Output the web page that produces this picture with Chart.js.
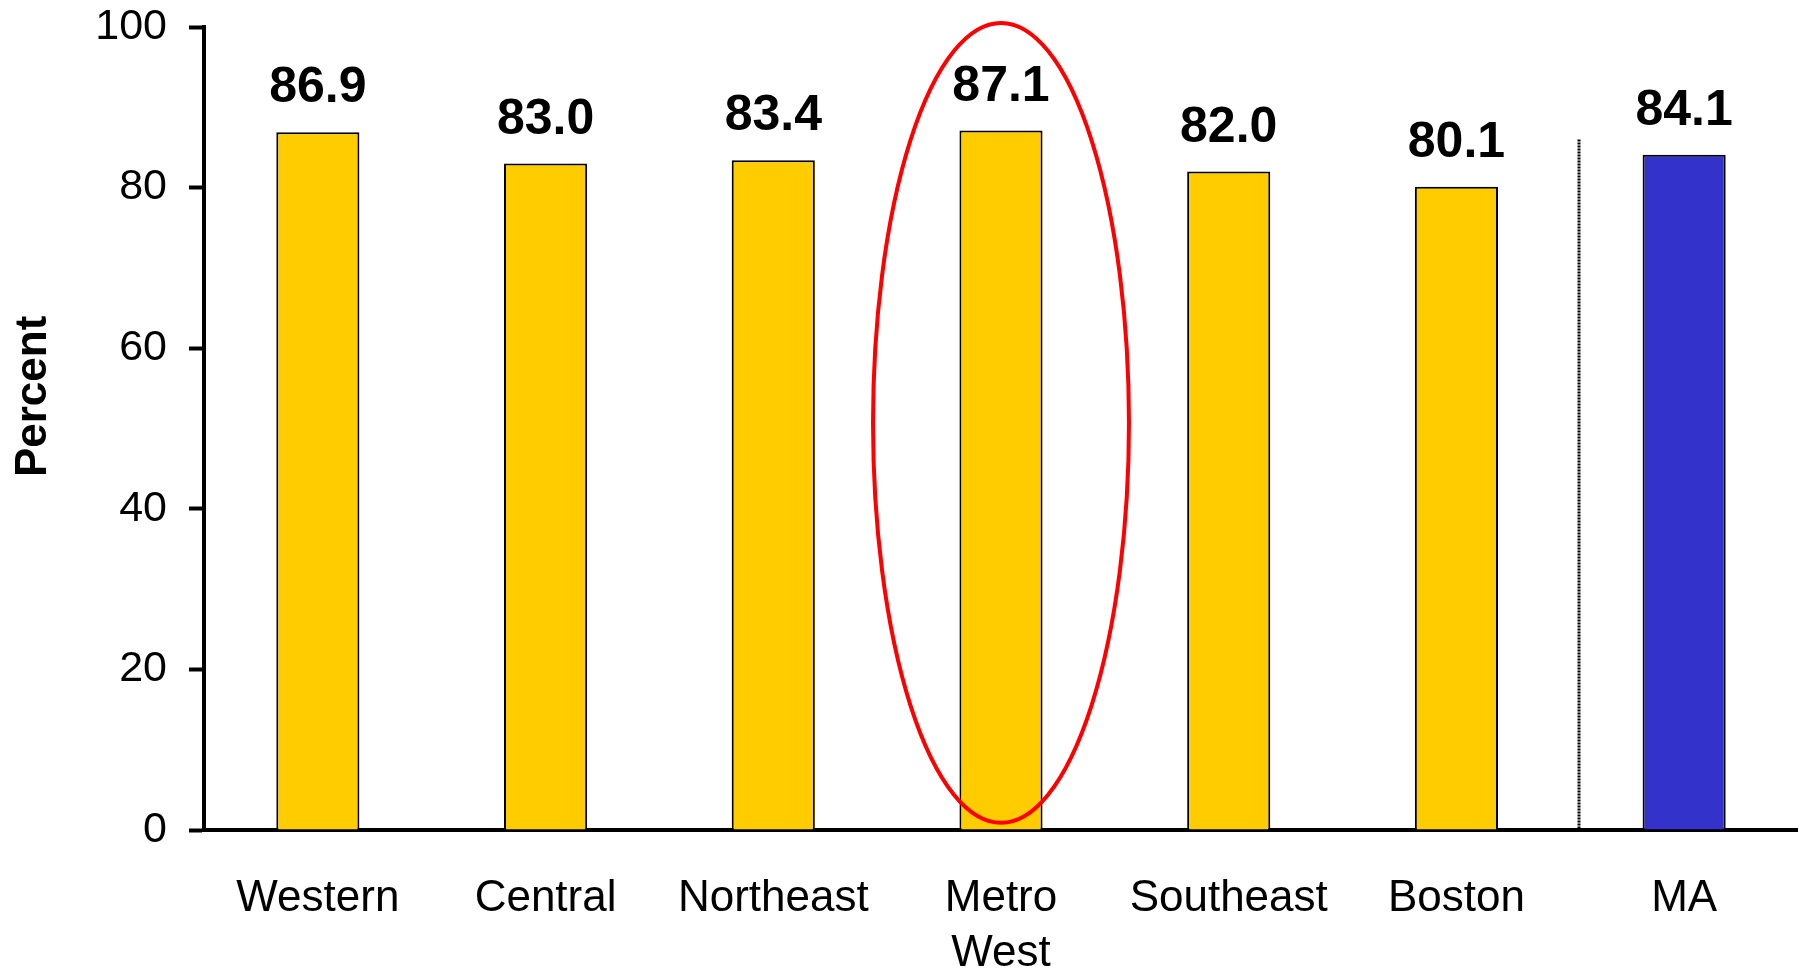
<!DOCTYPE html>
<html>
<head>
<meta charset="utf-8">
<script src="https://cdn.jsdelivr.net/npm/chart.js@4.4.1/dist/chart.umd.min.js"></script>
<style>
  html, body { margin: 0; padding: 0; background: #fff; }
  #wrap { width: 1798px; height: 970px; }
</style>
</head>
<body>
<div id="wrap"><canvas id="chart"></canvas></div>
<script>
// --- data ---
const regions = [["Western"], ["Central"], ["Northeast"], ["Metro", "West"], ["Southeast"], ["Boston"], ["MA"]];
const percents = [86.9, 83.0, 83.4, 87.1, 82.0, 80.1, 84.1];
const yTicks = [0, 20, 40, 60, 80, 100];
const yTitle = "Percent";
const highlightRegion = "Metro West";
const stateName = "MA";

const FONT = "'Liberation Sans', Arial, Helvetica, sans-serif";
const YELLOW = "#FFCC00";
const BLUE = "#3333CC";

const barColors = regions.map(r => r.join(" ") === stateName ? BLUE : YELLOW);

// value labels, dotted separator before MA, red ellipse round the highlighted bar, axis title
const extras = {
  id: "extras",
  afterDatasetsDraw(chart) {
    const ctx = chart.ctx;
    const x = chart.scales.x;
    const y = chart.scales.y;
    const meta = chart.getDatasetMeta(0);

    // labels above the bars
    ctx.save();
    ctx.font = "bold 50px " + FONT;
    ctx.fillStyle = "#000";
    ctx.textAlign = "center";
    ctx.textBaseline = "alphabetic";
    meta.data.forEach((bar, i) => {
      ctx.fillText(percents[i].toFixed(1), bar.x, bar.y - 30);
    });
    ctx.restore();

    // dotted separator
    const stateIdx = regions.findIndex(r => r.join(" ") === stateName);
    const sx = Math.round(x.getPixelForValue(stateIdx - 0.46));
    ctx.save();
    ctx.strokeStyle = "#000";
    ctx.lineWidth = 3;
    ctx.setLineDash([2, 1]);
    ctx.beginPath();
    ctx.moveTo(sx, y.getPixelForValue(86));
    ctx.lineTo(sx, y.getPixelForValue(0));
    ctx.stroke();
    ctx.restore();

    // ellipse
    const hi = regions.findIndex(r => r.join(" ") === highlightRegion);
    const cx = x.getPixelForValue(hi);
    const catW = x.getPixelForValue(1) - x.getPixelForValue(0);
    const top = y.getPixelForValue(100.5);
    const bottom = y.getPixelForValue(0.9);
    ctx.save();
    ctx.strokeStyle = "#FF0000";
    ctx.lineWidth = 4;
    ctx.beginPath();
    ctx.ellipse(cx, (top + bottom) / 2, catW * 0.562, (bottom - top) / 2, 0, 0, Math.PI * 2);
    ctx.stroke();
    ctx.restore();

    // y axis title (sits a bit above the middle of the axis)
    ctx.save();
    ctx.font = "bold 44px " + FONT;
    ctx.fillStyle = "#000";
    ctx.textAlign = "center";
    ctx.textBaseline = "middle";
    ctx.translate(34, y.getPixelForValue(54));
    ctx.rotate(-Math.PI / 2);
    ctx.fillText(yTitle, 0, 0);
    ctx.restore();
  }
};

new Chart(document.getElementById("chart"), {
  type: "bar",
  data: {
    labels: regions,
    datasets: [{
      label: yTitle,
      data: percents,
      backgroundColor: barColors,
      borderColor: "#000",
      borderWidth: 2,
      categoryPercentage: 1,
      barPercentage: 0.365
    }]
  },
  options: {
    responsive: true,
    maintainAspectRatio: false,
    animation: false,
    layout: { padding: { top: 27, left: 0, right: 0, bottom: 0 } },
    plugins: {
      legend: { display: false },
      tooltip: { enabled: false }
    },
    scales: {
      x: {
        grid: { display: false },
        border: { display: true, color: "#000", width: 4 },
        ticks: {
          color: "#000",
          font: { family: FONT, size: 44, lineHeight: 1.25 },
          padding: 33,
          maxRotation: 0,
          autoSkip: false
        },
        afterFit(scale) {
          scale.height = 140;
          scale.paddingLeft = 0;
          scale.paddingRight = 0;
        }
      },
      y: {
        min: 0,
        max: 100,
        afterBuildTicks(scale) { scale.ticks = yTicks.map(v => ({ value: v })); },
        grid: {
          display: true,
          drawOnChartArea: false,
          drawTicks: true,
          tickLength: 15,
          tickColor: "#000",
          tickWidth: 4
        },
        border: { display: true, color: "#000", width: 4 },
        ticks: {
          color: "#000",
          font: { family: FONT, size: 43 },
          padding: 22
        },
        afterFit(scale) {
          scale.width = 204;
          scale.paddingTop = 0;
          scale.paddingBottom = 0;
        }
      }
    }
  },
  plugins: [extras]
});
</script>
</body>
</html>
